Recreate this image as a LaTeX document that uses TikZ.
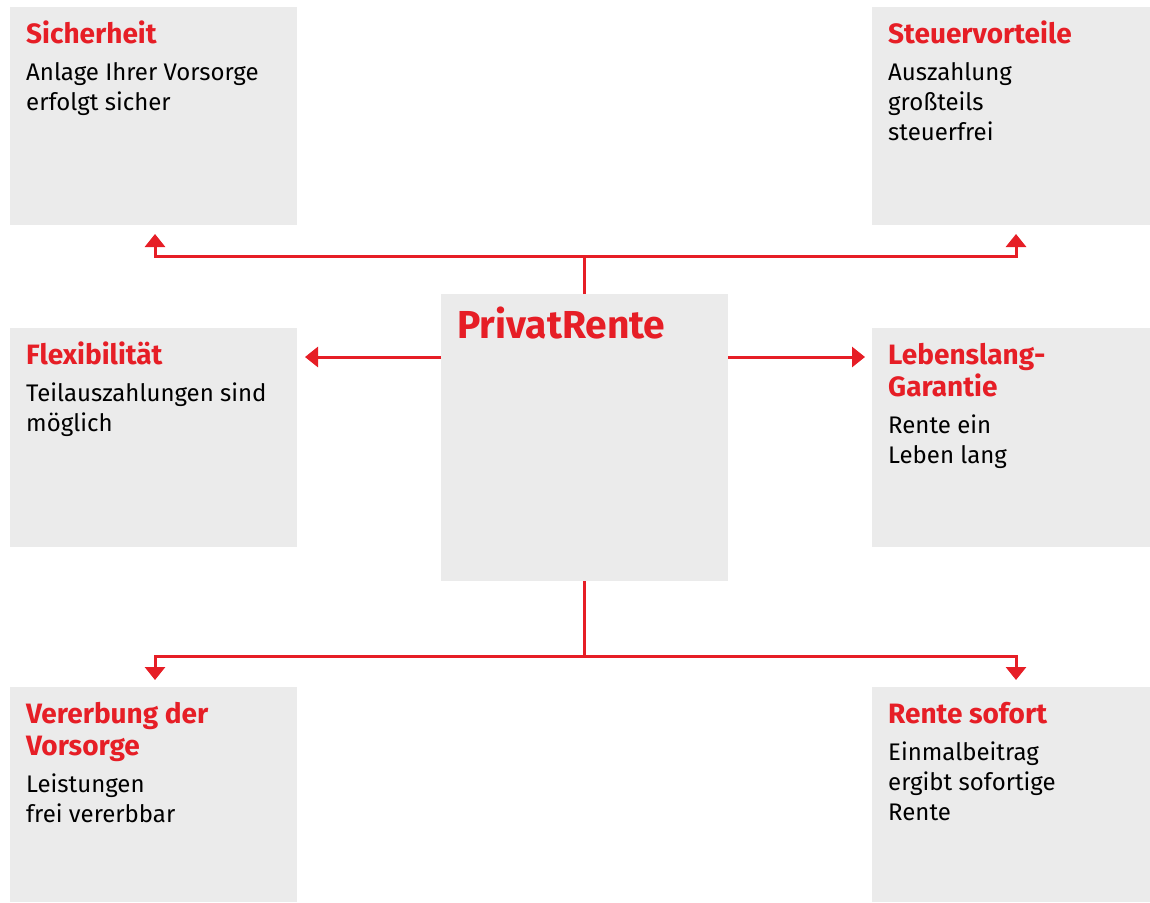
\documentclass[tikz,border=0pt]{standalone}
\usepackage{fontspec}
\setmainfont{Fira Sans}
\usetikzlibrary{arrows.meta,calc}
\definecolor{rred}{RGB}{230,30,38}
\definecolor{bgray}{RGB}{235,235,235}
\newcommand\mylines[1]{\begin{tabular}[t]{@{}l@{}}#1\end{tabular}}
\begin{document}
\begin{tikzpicture}[x=1pt,y=-1pt,
  box/.style={fill=bgray,draw=none,inner sep=0pt,outer sep=0pt,anchor=north west},
  ttl/.style={anchor=base west,inner sep=0pt,text=rred,font=\fontsize{28}{32}\selectfont\bfseries},
  txt/.style={anchor=base west,inner sep=0pt,font=\fontsize{24}{30}\selectfont},
  arr/.style={draw=rred,line width=3pt,-{Triangle[width=20pt,length=13pt]}}]
\useasboundingbox (0,0) rectangle (1150,902);
% boxes
\node[box,minimum width=287pt,minimum height=218pt] (sich) at (10,7) {};
\node[box,minimum width=278pt,minimum height=218pt] (steu) at (872,7) {};
\node[box,minimum width=287pt,minimum height=219pt] (flex) at (10,328) {};
\node[box,minimum width=278pt,minimum height=219pt] (lebe) at (872,328) {};
\node[box,minimum width=287pt,minimum height=287pt] (c) at (441,294) {};
\node[box,minimum width=287pt,minimum height=215pt] (vere) at (10,687) {};
\node[box,minimum width=278pt,minimum height=215pt] (sofo) at (872,687) {};
% texts
\node[ttl] (t1) at (26,43) {Sicherheit};
\node[txt] (d1) at (26,80) {\mylines{Anlage Ihrer Vorsorge\\erfolgt sicher}};
\node[ttl] (t2) at (888,43) {Steuervorteile};
\node[txt] (d2) at (888,80) {\mylines{Auszahlung\\großteils\\steuerfrei}};
\node[ttl] (t3) at (26,364) {Flexibilität};
\node[txt] (d3) at (26,401) {\mylines{Teilauszahlungen sind\\möglich}};
\node[ttl] (t4) at (888,364) {\mylines{Lebenslang-\\Garantie}};
\node[txt] (d4) at (888,433) {\mylines{Rente ein\\Leben lang}};
\node[ttl,font=\fontsize{39}{42}\selectfont\bfseries] (tc) at (457,338) {PrivatRente};
\node[ttl] (t5) at (26,723) {\mylines{Vererbung der\\Vorsorge}};
\node[txt] (d5) at (26,792) {\mylines{Leistungen\\frei vererbbar}};
\node[ttl] (t6) at (888,723) {Rente sofort};
\node[txt] (d6) at (888,760) {\mylines{Einmalbeitrag\\ergibt sofortige\\Rente}};
% connectors
\coordinate (jt) at (584.5,256);
\coordinate (jb) at (584.5,656);
\coordinate (tipA) at (155,234);
\coordinate (tipB) at (1016,234);
\coordinate (tipL) at (305,357);
\coordinate (tipR) at (865,357);
\coordinate (tipC) at (155,680);
\coordinate (tipD) at (1016,680);
\draw[arr] (c.north) -- (jt) -| (tipA);
\draw[arr] (jt) -| (tipB);
\draw[arr] (c.west |- tipL) -- (tipL);
\draw[arr] (c.east |- tipR) -- (tipR);
\draw[arr] (c.south) -- (jb) -| (tipC);
\draw[arr] (jb) -| (tipD);
\end{tikzpicture}
\end{document}
